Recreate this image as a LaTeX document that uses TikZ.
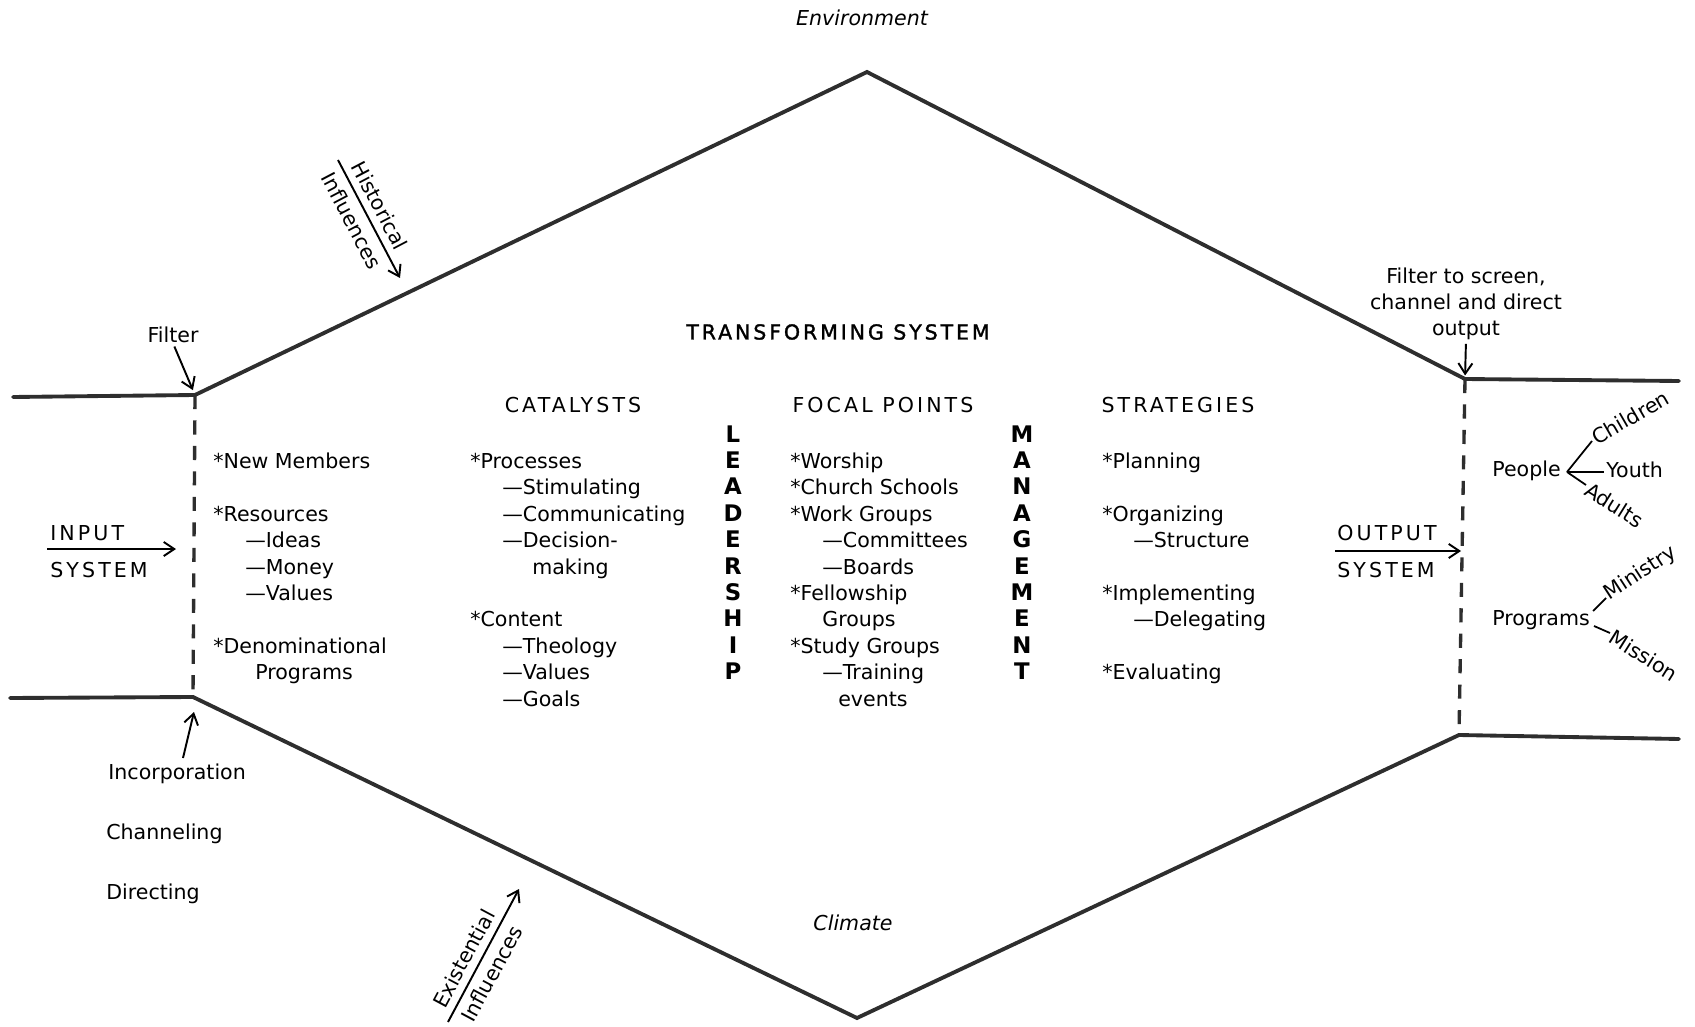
\documentclass[tikz,border=0pt]{standalone}
\usepackage{fontspec}
\setmainfont{DejaVu Sans}[ItalicFont={DejaVu Sans Oblique}, BoldFont={DejaVu Sans Bold}]
\newfontfamily\capsfont{DejaVu Sans}[LetterSpace=15]
\newfontfamily\titlefont{DejaVu Sans}[LetterSpace=14, FakeBold=1.5]
\usetikzlibrary{arrows.meta, positioning, calc}

\tikzset{
  wall/.style={draw=black!82, line width=2.2pt, line cap=round, line join=miter},
  gate/.style={draw=black!82, line width=1.9pt, dash pattern=on 8pt off 6.5pt},
  arw/.style={line width=1.1pt, -{Straight Barb[length=6pt, width=8pt]}},
  twig/.style={line width=1pt},
  txt/.style={inner sep=0pt, font=\fontsize{11.7}{15}\selectfont},
  item/.style={txt, anchor=base west},
  head/.style={inner sep=0pt, font=\fontsize{11.7}{15}\selectfont\capsfont},
  spine/.style={inner sep=0pt, anchor=base, font=\fontsize{13}{15}\selectfont\bfseries},
}

\begin{document}
\begin{tikzpicture}[x=0.02cm, y=-0.02cm]
\useasboundingbox (0,0) rectangle (1695,1027);

% outline of the system
\coordinate (tl0) at (13,397);
\coordinate (tl)  at (195,395);
\coordinate (top) at (867,72);
\coordinate (tr)  at (1465,379);
\coordinate (tr0) at (1679,381);
\coordinate (bl0) at (10,698);
\coordinate (bl)  at (193,697);
\coordinate (bot) at (857,1018);
\coordinate (br)  at (1459,735);
\coordinate (br0) at (1679,739);
\draw[wall] (tl0) -- (tl) -- (top) -- (tr) -- (tr0);
\draw[wall] (bl0) -- (bl) -- (bot) -- (br) -- (br0);
\draw[gate] (tl) -- (bl);
\draw[gate] (tr) -- (br);

\node[txt, font=\fontsize{11.7}{15}\selectfont\itshape] (env) at (862,18) {Environment};
\node[txt, font=\fontsize{11.7}{15}\selectfont\itshape] (clim) at (853,923) {Climate};
\node[inner sep=0pt, font=\fontsize{11.7}{15}\selectfont\titlefont] (title) at (838,332) {TRANSFORMING SYSTEM};

% influences
\coordinate (histA) at (338,160);
\coordinate (histB) at (400,278);
\draw[arw] (histA) -- (histB)
  node[txt, pos=0.45, sloped, above=4pt] (hist1) {Historical}
  node[txt, pos=0.45, sloped, below=4pt] (hist2) {Influences};
\coordinate (exA) at (448,1022);
\coordinate (exB) at (519,889);
\draw[arw] (exA) -- (exB)
  node[txt, pos=0.42, sloped, above=4pt] (ex1) {Existential}
  node[txt, pos=0.42, sloped, below=4pt] (ex2) {Influences};

% input side
\node[txt] (filt) at (173,335) {Filter};
\draw[arw, shorten <=2pt, shorten >=3pt] (filt.south) -- (tl);
\node[head, anchor=base west] (inp) at (50,540) {INPUT};
\node[head, anchor=base west] (insys) at (50,577) {SYSTEM};
\coordinate (inA) at (47,549);
\coordinate (inB) at (176,549);
\draw[arw] (inA) -- (inB);
\node[item] (inc) at (108,779) {Incorporation};
\node[item] (chan) at (106,839) {Channeling};
\node[item] (dir) at (106,899) {Directing};
\coordinate (incA) at (183,758);
\coordinate (incB) at (194,712);
\draw[arw] (incA) -- (incB);

\foreach \r/\x/\lab [count=\i] in {1/213/{*New Members}, 3/213/{*Resources},
    4/245/{—Ideas}, 5/245/{—Money}, 6/245/{—Values},
    8/213/{*Denominational}, 9/255/{Programs}}
  \node[item] (inp\i) at (\x,{442+26.4*\r}) {\lab};

% catalysts
\node[head] (cat) at (573,405) {CATALYSTS};
\foreach \r/\x/\lab [count=\i] in {1/470/{*Processes}, 2/502/{—Stimulating},
    3/502/{—Communicating}, 4/502/{—Decision-}, 5/532/{making},
    7/470/{*Content}, 8/502/{—Theology}, 9/502/{—Values}, 10/502/{—Goals}}
  \node[item] (cat\i) at (\x,{442+26.4*\r}) {\lab};

\foreach \c [count=\k from 0] in {L,E,A,D,E,R,S,H,I,P}
  \node[spine] (lead\k) at (733,{442+26.4*\k}) {\c};

% focal points
\node[head] (foc) at (883,405) {FOCAL POINTS};
\foreach \r/\x/\lab [count=\i] in {1/790/{*Worship}, 2/790/{*Church Schools},
    3/790/{*Work Groups}, 4/822/{—Committees}, 5/822/{—Boards},
    6/790/{*Fellowship}, 7/822/{Groups}, 8/790/{*Study Groups},
    9/822/{—Training}, 10/838/{events}}
  \node[item] (foc\i) at (\x,{442+26.4*\r}) {\lab};

\foreach \c [count=\k from 0] in {M,A,N,A,G,E,M,E,N,T}
  \node[spine] (man\k) at (1022,{442+26.4*\k}) {\c};

% strategies
\node[head] (strat) at (1178,405) {STRATEGIES};
\foreach \r/\x/\lab [count=\i] in {1/1102/{*Planning}, 3/1102/{*Organizing},
    4/1133/{—Structure}, 6/1102/{*Implementing}, 7/1133/{—Delegating},
    9/1102/{*Evaluating}}
  \node[item] (str\i) at (\x,{442+26.4*\r}) {\lab};

% output side
\node[txt, align=center, font=\fontsize{11.7}{14.8}\selectfont] (filt2) at (1466,304)
  {Filter to screen,\\channel and direct\\output};
\draw[arw, shorten <=2pt, shorten >=2pt] (filt2.south) -- (tr);
\node[head, anchor=base west] (outp) at (1337,540) {OUTPUT};
\node[head, anchor=base west] (outsys) at (1337,577) {SYSTEM};
\coordinate (outA) at (1335,551);
\coordinate (outB) at (1461,551);
\draw[arw] (outA) -- (outB);

\node[item] (ppl) at (1492,477) {People};
\coordinate (pj) at (1567,472);
\coordinate (pc) at (1592,441);
\coordinate (py) at (1604,472);
\coordinate (pa) at (1586,485);
\draw[twig] (pj) -- (pc);
\draw[twig] (pj) -- (py);
\draw[twig] (pj) -- (pa);
\node[txt, anchor=west, rotate=30] (kids) at (1593,439) {Children};
\node[txt, anchor=west] (youth) at (1606,470) {Youth};
\node[txt, anchor=west, rotate=-32] (adult) at (1587,488) {Adults};

\node[item] (prog) at (1492,625) {Programs};
\coordinate (gj) at (1593,611);
\coordinate (gm) at (1606,598);
\coordinate (gk) at (1594,626);
\coordinate (gs) at (1610,633);
\draw[twig] (gj) -- (gm);
\draw[twig] (gk) -- (gs);
\node[txt, anchor=west, rotate=33] (mini) at (1606,596) {Ministry};
\node[txt, anchor=west, rotate=-32] (miss) at (1611,635) {Mission};
\end{tikzpicture}
\end{document}
